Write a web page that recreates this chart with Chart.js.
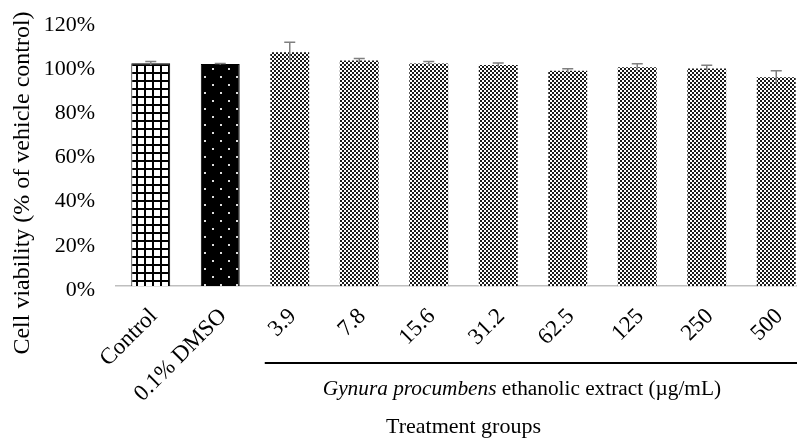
<!DOCTYPE html>
<html>
<head>
<meta charset="utf-8">
<script src="https://cdn.jsdelivr.net/npm/chart.js@4.4.0/dist/chart.umd.min.js"></script>
<style>
  html, body { margin: 0; padding: 0; background: #fff; overflow: hidden; }
  #wrap { width: 797px; height: 442px; overflow: hidden; position: relative; }
  canvas { display: block; }
</style>
</head>
<body>
<div id="wrap"><canvas id="c" width="815" height="442"></canvas></div>
<script>
// ---- data ----
const categories = ['Control', '0.1% DMSO', '3.9', '7.8', '15.6', '31.2', '62.5', '125', '250', '500'];
const viability = [100.9, 100.5, 105.9, 102.1, 100.7, 100.1, 97.5, 99.1, 98.5, 94.5];
const errors = [0.8, 0.3, 4.5, 0.9, 1.0, 0.9, 0.9, 1.5, 1.5, 3.0];
const yTicks = [0, 20, 40, 60, 80, 100, 120];
const yTitle = 'Cell viability (% of vehicle control)';
const xTitle = 'Treatment groups';
const extractItalic = 'Gynura procumbens';
const extractRest = ' ethanolic extract (\u00b5g/mL)';

const FONT = "'Liberation Serif', 'Times New Roman', serif";

// ---- fill patterns ----
function makePattern(w, h, draw) {
  const c = document.createElement('canvas');
  c.width = w; c.height = h;
  const g = c.getContext('2d');
  draw(g, w, h);
  return c;
}
const ctx = document.getElementById('c').getContext('2d');
const gridTile = makePattern(8, 8, (g, w, h) => {
  g.fillStyle = '#fff'; g.fillRect(0, 0, w, h);
  g.fillStyle = '#000'; g.fillRect(0, 0, w, 2); g.fillRect(0, 0, 2, h);
});
const dotTile = makePattern(16, 16, (g, w, h) => {
  g.fillStyle = '#000'; g.fillRect(0, 0, w, h);
  g.fillStyle = '#ddd'; g.fillRect(4, 4, 2, 2); g.fillRect(12, 12, 2, 2);
});
const checkTile = makePattern(4, 4, (g, w, h) => {
  g.fillStyle = '#fff'; g.fillRect(0, 0, w, h);
  g.fillStyle = '#1a1a1a'; g.fillRect(0, 0, 2, 2); g.fillRect(2, 2, 2, 2);
});
const pGrid = ctx.createPattern(gridTile, 'repeat');
const pDot = ctx.createPattern(dotTile, 'repeat');
const pCheck = ctx.createPattern(checkTile, 'repeat');
const fills = categories.map((c, i) => i === 0 ? pGrid : (i === 1 ? pDot : pCheck));
const borders = categories.map((c, i) => i < 2 ? 1 : 0);

// ---- plugins ----
const errorBars = {
  id: 'errorBars',
  afterDatasetsDraw(chart) {
    const meta = chart.getDatasetMeta(0);
    const y = chart.scales.y;
    const c = chart.ctx;
    c.save();
    c.strokeStyle = '#7f7f7f';
    c.lineWidth = 1.5;
    meta.data.forEach((bar, i) => {
      const v = viability[i], e = errors[i];
      const top = y.getPixelForValue(v + e);
      const bot = y.getPixelForValue(v - e);
      const x = bar.x;
      c.beginPath();
      c.moveTo(x, top); c.lineTo(x, bot);
      c.moveTo(x - 5.5, top); c.lineTo(x + 5.5, top);
      c.stroke();
    });
    c.restore();
  }
};

const extras = {
  id: 'extras',
  afterDraw(chart) {
    const c = chart.ctx;
    const area = chart.chartArea;
    const xs = chart.scales.x;
    c.save();
    // bracket line under extract concentrations
    const lx = xs.getPixelForValue(2) - 25;
    const ly = area.bottom + 77;
    c.strokeStyle = '#000';
    c.lineWidth = 2;
    c.beginPath(); c.moveTo(lx, ly); c.lineTo(chart.width, ly); c.stroke();
    // extract label
    const tx = xs.getPixelForValue(2) + 33;
    const ty = area.bottom + 103;
    c.fillStyle = '#000';
    c.textBaseline = 'middle';
    c.textAlign = 'left';
    c.font = 'italic 21.3px ' + FONT;
    c.fillText(extractItalic, tx, ty);
    const w = c.measureText(extractItalic).width;
    c.font = '21.3px ' + FONT;
    c.fillText(extractRest, tx + w, ty);
    // y-axis title
    c.translate(23, 183);
    c.rotate(-Math.PI / 2);
    c.textAlign = 'center';
    c.font = '24px ' + FONT;
    c.fillText(yTitle, 0, 0);
    c.restore();
  }
};

new Chart(ctx, {
  type: 'bar',
  data: {
    labels: categories,
    datasets: [{
      data: viability,
      backgroundColor: fills,
      borderColor: '#000',
      borderWidth: borders,
      categoryPercentage: 1.0,
      barPercentage: 0.56
    }]
  },
  options: {
    responsive: false,
    animation: false,
    events: [],
    layout: { padding: { top: 21, right: 4, bottom: 0, left: 0 } },
    plugins: { legend: { display: false }, tooltip: { enabled: false } },
    scales: {
      x: {
        grid: { display: false, drawTicks: false },
        border: { display: true, color: '#bfbfbf', width: 1.5 },
        ticks: {
          color: '#000',
          font: { family: FONT, size: 23 },
          maxRotation: 45, minRotation: 45,
          padding: 17,
          labelOffset: 3,
          autoSkip: false
        },
        title: {
          display: true,
          text: xTitle,
          color: '#000',
          font: { family: FONT, size: 22 },
          padding: { top: 0, bottom: 2 }
        },
        afterFit(s) { s.height = 156; s.paddingLeft = 0; s.paddingRight = 0; }
      },
      y: {
        min: 0, max: 120,
        afterBuildTicks(s) { s.ticks = yTicks.map(v => ({ value: v })); },
        grid: { display: false, drawTicks: false },
        border: { display: false },
        ticks: {
          color: '#000',
          font: { family: FONT, size: 22 },
          padding: 21,
          labelOffset: 4,
          callback: v => v + '%'
        },
        afterFit(s) { s.width = 116; s.paddingTop = 0; s.paddingBottom = 0; }
      }
    }
  },
  plugins: [errorBars, extras]
});
</script>
</body>
</html>
